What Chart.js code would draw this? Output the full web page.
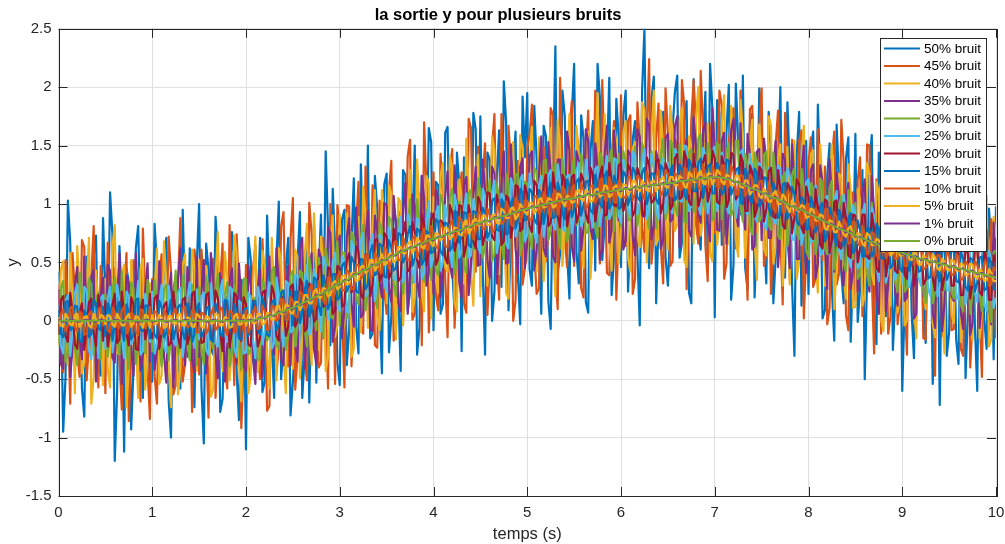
<!DOCTYPE html>
<html lang="fr">
<head>
<meta charset="utf-8">
<title>la sortie y pour plusieurs bruits</title>
<script src="https://cdn.jsdelivr.net/npm/chart.js@4.4.1/dist/chart.umd.min.js"></script>
<style>
  html, body { margin: 0; padding: 0; background: #fff; }
  canvas { display: block; }
</style>
</head>
<body>
<canvas id="sortie" width="1005" height="544"></canvas>
<script>
// échantillons bruités : 0 à 10 s par pas de 0.025 s (401 points)
const temps = Array.from({ length: 401 }, (_, i) => i / 40);
// sorties peu bruitées : pas de 0.05 s (201 points)
const tempsLisse = Array.from({ length: 201 }, (_, i) => i / 20);

const niveaux = ['50% bruit', '45% bruit', '40% bruit', '35% bruit', '30% bruit', '25% bruit',
                 '20% bruit', '15% bruit', '10% bruit', '5% bruit', '1% bruit', '0% bruit'];

const couleurs = ['#0072BD', '#D95319', '#EDB120', '#7E2F8E', '#77AC30', '#4DBEEE',
                  '#A2142F', '#0072BD', '#D95319', '#EDB120', '#7E2F8E', '#77AC30'];

const sortie50 = [
    0.42, 0.21, -0.95, -0.48, 1.03, 0.67, -0.31, -0.15, 0.18, 0.39, -0.58, -0.82, 0.55, 0.11, -0.12, 0.56, 0.73, -0.34, -0.47, 0.88,
    0.26, -0.29, 1.10, 0.74, -1.20, -0.61, 0.64, 0.18, -1.12, 0.45, 0.33, -0.93, -0.41, 0.62, 0.81, -0.07, -0.66, 0.35, 0.09, -0.52,
    -0.52, 0.83, 0.48, -0.16, -0.23, 0.51, 0.71, -0.68, -1.00, 0.27, 0.37, -0.44, -0.58, 0.95, 0.15, -0.31, 0.62, -0.12, -0.74, 0.49,
    1.00, -0.57, -1.05, 0.66, 0.44, -0.24, -0.29, 0.89, 0.58, -0.78, -0.67, 0.13, 0.21, -0.46, 0.76, 0.58, -0.43, -0.85, 0.35, 0.32,
    -1.10, 0.71, 0.53, -0.32, -0.37, 0.17, 0.71, -0.61, -0.52, 0.90, 0.31, -0.16, -0.66, 0.53, 1.02, -0.50, -0.18, 0.45, 0.71, -0.81,
    -0.52, -0.14, 0.52, 0.93, -0.66, -0.31, 0.74, -0.70, 0.31, 0.83, -0.53, 0.40, 0.91, -0.15, 1.45, 0.79, -0.21, 1.13, 0.64, -0.36,
    -0.55, 0.87, 0.95, -0.38, -0.08, 0.66, 1.22, -0.05, -0.28, 1.34, 0.65, 0.25, 1.50, -0.15, -0.11, 1.24, 0.96, 0.12, -0.45, 1.17,
    1.26, -0.27, 0.03, 0.98, 0.85, 0.23, -0.43, 1.29, 1.25, 0.09, 0.25, 0.80, 1.50, -0.29, -0.06, 1.24, 0.86, 0.41, 1.65, 1.53,
    -0.08, 1.19, 1.16, 0.06, 0.14, 1.61, 1.66, 0.52, 0.45, 0.05, 1.44, 1.17, -0.26, 1.40, 1.18, 0.32, 0.33, 1.78, 1.64, 0.47,
    1.75, 0.43, -0.29, 1.44, 1.38, 0.00, 0.25, 1.23, 1.63, 0.29, 2.05, 1.69, 0.09, 0.67, 1.28, 1.62, 0.39, -0.03, 1.92, 1.40,
    1.95, 0.44, 0.30, 1.84, 1.39, 0.68, 0.06, 1.67, 1.58, 0.17, -0.07, 1.26, 2.35, 0.41, 0.57, 1.97, 1.76, 0.59, 0.19, 1.76,
    2.20, 0.59, 0.32, 1.76, 1.56, 0.16, 0.07, 1.46, 1.71, 0.43, 2.20, 1.91, 0.52, 0.81, 1.37, 2.08, 0.22, 0.54, 1.90, 1.57,
    0.46, 1.76, 1.97, 0.25, 0.71, 1.55, 1.71, 0.58, -0.04, 1.97, 2.50, 0.82, 0.45, 1.90, 2.09, 0.15, 0.82, 1.46, 1.79, 0.55,
    0.30, 0.79, 1.64, 1.96, 2.10, 0.54, 0.67, 1.72, 1.88, 0.24, 0.15, 2.07, 1.60, 0.79, 0.61, 1.53, 1.96, 0.44, 2.20, 1.81,
    0.03, 1.89, 1.78, 0.65, 0.75, 1.61, 2.02, 0.18, 0.48, 2.03, 1.54, 0.91, 2.10, 0.45, 0.27, 1.69, 1.77, 0.20, 0.73, 1.99,
    1.68, 0.73, 0.32, 1.79, 1.48, 0.15, 0.54, 1.32, 2.00, 0.48, 0.37, 1.87, 1.30, 0.30, -0.30, 1.43, 1.79, 0.13, 0.49, 1.54,
    0.23, 1.48, 1.62, 0.45, 1.85, 1.22, 0.02, 0.09, 1.25, 1.52, 0.26, -0.17, 1.68, 1.21, 0.41, 0.15, 1.39, 1.57, -0.18, 0.45,
    1.60, -0.01, 0.27, 1.29, -0.50, 0.37, 1.34, 1.59, 0.09, -0.20, 1.44, 1.12, 0.33, 0.04, 1.16, 1.36, -0.25, 0.19, 1.02, 1.25,
    -0.60, 0.14, 1.20, 1.09, 0.07, -0.32, 0.89, 1.22, 1.30, 0.18, -0.19, 1.35, 1.03, -0.54, 0.12, 0.91, -0.72, 0.75, 1.17, -0.30,
    -0.10, 1.18, 0.94, -0.16, -0.37, 0.93, 1.35, -0.49, 0.07, 0.79, 1.01, -0.05, -0.60, 1.23, 1.14, 0.01, -0.24, 0.96, 0.65, -0.33,
    0.98
];

const sortie45 = [
    0.31, -0.36, -0.44, 0.52, 0.12, -0.71, 0.58, 0.24, -0.27, -0.48, 0.69, 0.63, -0.51, -0.19, 0.38, 0.81, -0.09, -0.57, 0.47, 0.28,
    -0.62, 0.67, 0.21, -0.32, 0.45, 0.14, -0.33, -0.76, 0.15, 0.58, -0.86, -0.27, 0.52, 0.43, -0.18, -0.69, 0.79, 0.21, -0.41, -0.84,
    0.36, -0.47, -0.71, 0.39, 0.57, -0.18, -0.14, 0.72, 0.42, -0.63, -0.55, 0.31, 0.88, -0.52, -0.37, 0.16, 0.24, -0.78, 0.61, 0.44,
    -0.46, 0.61, 0.29, -0.13, -0.83, 0.47, 0.53, -0.66, -0.21, 0.35, 0.66, -0.41, -0.58, 0.82, 0.11, -0.55, 0.74, 0.26, -0.92, -0.37,
    0.48, -0.58, -0.36, 0.45, 0.64, -0.21, -0.50, 0.70, 0.22, -0.77, -0.73, 0.41, 0.46, -0.46, -0.21, 0.81, 0.93, -0.08, -0.39, 0.70,
    1.05, -0.59, -0.30, 0.42, 0.42, -0.33, -0.51, 1.01, 0.74, -0.16, 0.54, -0.40, -0.36, 0.71, 0.09, -0.58, 1.00, 0.62, -0.54, 0.99,
    0.78, 0.04, -0.57, 0.99, 0.98, -0.39, 0.04, 0.81, 1.19, -0.04, -0.11, 1.32, 0.58, 0.11, 1.16, -0.21, -0.23, 1.03, 0.89, 0.26,
    0.06, 1.11, 1.37, -0.17, -0.09, 0.94, 0.90, 0.12, 0.37, 1.41, 1.55, 0.01, 0.06, 0.89, 1.09, -0.21, 1.70, 1.13, -0.10, 0.37,
    1.27, 0.22, 0.09, 1.43, 1.08, 0.36, -0.14, 1.31, 1.47, -0.06, 0.51, 1.07, 1.27, 0.15, 0.07, 1.73, 1.65, 0.55, 0.42, 1.49,
    0.29, 1.23, 1.52, 0.05, 0.48, 1.49, 1.77, 0.55, 0.18, 1.77, 1.14, 0.34, 1.67, 1.35, 0.00, 0.17, 1.37, 1.24, 0.31, 0.45,
    1.48, 1.59, 1.85, 0.60, 0.23, 0.28, 1.36, 1.49, 0.51, 0.74, 1.82, 1.76, 0.39, 0.10, 2.08, 1.39, 0.72, 0.46, 1.63, 1.88,
    0.47, 1.60, 1.49, 0.28, 0.20, 1.41, 1.80, 0.62, 0.72, 1.97, 1.63, 0.49, 2.06, 1.37, 0.41, 0.39, 1.39, 1.71, 0.18, 0.74,
    1.93, 0.70, 0.64, 1.71, 1.76, 0.23, 0.36, 1.87, 1.52, 0.80, 0.59, 1.62, 2.24, 0.49, 0.74, 1.56, 1.86, 0.63, 0.32, 1.99,
    1.62, 0.47, 0.51, 1.56, 1.48, 0.72, 2.06, 1.84, 0.27, 0.92, 1.72, 2.06, 0.83, 0.66, 2.14, 1.65, 0.65, 0.34, 1.58, 1.74,
    0.75, 0.89, 1.97, 1.85, 0.36, 0.49, 1.54, 1.69, 1.82, 0.62, 0.64, 1.97, 1.44, 0.75, 0.18, 1.81, 1.84, 0.87, 0.76, 1.65,
    1.99, 0.47, 0.57, 1.48, 0.23, 0.71, 1.51, 1.80, 0.74, 0.14, 1.78, 1.29, 0.35, 1.55, 1.35, 0.48, 1.54, 1.63, 0.02, 0.56,
    1.35, 1.57, 0.29, 0.36, 1.64, 0.59, 0.52, 1.32, -0.03, 0.11, 1.40, 1.62, 0.31, 0.40, 1.72, 1.36, 0.05, -0.08, 1.06, 1.10,
    0.17, 1.20, 1.40, 0.04, 0.29, 1.51, 1.50, 0.37, -0.28, 1.21, 1.02, -0.11, 1.25, 1.02, -0.11, 0.04, 1.09, 1.31, -0.03, 0.15,
    1.10, 0.21, -0.29, 1.18, 1.30, 0.01, 0.09, 1.33, 0.86, -0.15, -0.16, 0.94, 1.08, 0.22, -0.47, 1.23, 0.91, -0.13, 0.17, 0.96,
    1.13, -0.08, -0.07, 0.90, 0.84, -0.24, -0.30, 1.02, 1.28, -0.40, 0.00, 1.14, 0.69, 0.05, -0.48, 1.01, 0.96, -0.08, 0.87, 0.77,
    -0.15
];

const sortie40 = [
    -0.22, 0.44, 0.51, -0.19, -0.38, 0.58, 0.17, -0.62, 0.64, 0.27, -0.45, -0.36, 0.29, 0.71, -0.71, -0.48, 0.43, 0.15, -0.13, -0.55,
    0.36, -0.41, -0.57, 0.63, 0.82, -0.28, -0.25, 0.39, 0.48, -0.74, -0.39, 0.52, 0.14, -0.16, -0.66, 0.45, 0.53, -0.59, -0.31, 0.32,
    -0.18, 0.27, 0.62, -0.54, -0.47, 0.68, 0.33, -0.37, -0.74, 0.19, 0.26, -0.63, -0.41, 0.48, 0.57, -0.22, -0.29, 0.61, 0.45, -0.43,
    0.52, -0.26, -0.34, 0.47, 0.21, -0.65, -0.59, 0.34, 0.76, -0.18, -0.43, 0.59, 0.37, -0.51, -0.24, 0.73, 0.58, -0.37, -0.69, 0.28,
    0.33, -0.62, -0.48, 0.32, 0.72, -0.44, -0.25, 0.60, 0.47, -0.29, -0.58, 0.71, 0.24, -0.51, 0.62, 0.50, -0.28, -0.62, 0.38, 0.36,
    -0.41, 0.61, 0.54, -0.49, -0.14, 0.54, 0.83, -0.03, -0.38, 0.92, 0.44, -0.25, 0.72, 0.50, -0.43, -0.31, 0.65, 0.90, -0.14, -0.04,
    0.91, -0.11, -0.02, 0.92, 0.63, -0.31, -0.24, 0.73, 0.89, -0.10, 1.15, 0.90, -0.06, 0.19, 0.81, 1.12, 0.03, -0.08, 1.12, 0.91,
    0.15, 1.16, 1.09, 0.25, -0.16, 1.05, 1.01, -0.04, 0.35, 1.00, 1.29, 0.08, 0.20, 1.38, 0.96, 0.24, 0.08, 1.24, 1.18, 0.02,
    1.06, 0.34, 0.24, 1.24, 1.35, 0.46, 0.42, 1.41, 1.31, 0.16, 0.08, 1.21, 1.06, 0.32, 1.56, 1.15, 0.40, 0.13, 1.06, 1.42,
    0.21, 1.31, 1.30, 0.30, 0.58, 1.58, 1.46, 0.48, 0.40, 1.23, 1.27, 0.24, 0.19, 1.44, 1.53, 0.64, 0.59, 1.59, 1.47, 0.48,
    0.52, 1.34, 1.66, 0.49, 0.42, 1.57, 1.28, 0.34, 0.63, 1.45, 1.65, 0.70, 0.21, 1.72, 1.50, 0.47, 0.78, 1.30, 1.77, 0.62,
    0.56, 1.67, 1.41, 0.69, 0.45, 1.53, 1.62, 0.36, 0.77, 1.38, 1.95, 0.54, 0.65, 1.77, 1.37, 0.67, 0.43, 1.65, 1.53, 0.49,
    0.79, 1.61, 1.71, 0.54, 0.42, 1.48, 1.53, 0.72, 0.63, 1.87, 1.81, 0.50, 0.89, 1.57, 1.97, 0.65, 0.71, 1.80, 1.49, 0.89,
    0.61, 1.84, 1.61, 0.77, 0.83, 1.71, 1.82, 0.52, 0.46, 1.58, 1.49, 0.66, 1.74, 2.00, 0.73, 0.91, 1.59, 1.69, 0.58, 0.51,
    1.70, 0.65, 0.85, 1.67, 1.93, 0.86, 0.66, 1.84, 1.46, 0.70, 0.55, 1.89, 1.59, 0.54, 0.86, 1.52, 1.72, 0.68, 0.35, 1.68,
    1.44, 0.62, 0.56, 1.75, 1.67, 0.49, 0.63, 1.40, 1.51, 0.30, 0.70, 1.49, 0.31, 1.26, 1.54, 0.36, 0.51, 1.39, 1.67, 0.54,
    0.53, 1.43, 1.46, 0.52, 0.24, 1.51, 1.14, 0.30, 0.37, 1.14, 1.51, 0.10, 0.47, 1.26, 1.23, 0.36, 0.19, 1.34, 1.12, 0.11,
    0.12, 1.13, 1.03, 0.13, 0.22, 1.35, 1.25, 0.41, 0.31, 1.19, 1.09, 0.01, -0.09, 0.98, 0.88, 0.13, 1.24, 1.17, 0.07, 0.21,
    1.06, -0.04, 0.00, 0.94, 0.91, 0.10, -0.15, 1.12, 1.14, 0.24, 0.10, 1.18, 0.78, -0.02, -0.14, 0.94, 1.02, 0.11, -0.28, 1.09,
    0.86, 0.06, -0.02, 1.02, 1.07, -0.18, 0.08, 0.76, 0.94, -0.04, -0.17, 1.11, 0.85, -0.15, 0.07, 0.83, 1.07, -0.22, -0.16, 0.89,
    0.71
];

const sortie35 = [
    0.27, -0.36, -0.41, 0.22, 0.15, -0.48, -0.22, 0.31, 0.46, -0.14, -0.33, 0.55, 0.09, -0.27, 0.38, 0.43, -0.52, -0.19, 0.21, 0.37,
    -0.17, 0.48, 0.43, -0.31, -0.36, 0.17, 0.58, -0.54, -0.24, 0.39, 0.31, -0.22, -0.47, 0.58, 0.12, -0.43, -0.29, 0.26, 0.49, -0.35,
    0.34, -0.42, -0.26, 0.51, 0.19, -0.29, -0.53, 0.23, 0.41, -0.57, -0.14, 0.36, 0.62, -0.19, -0.38, 0.46, 0.23, -0.33, -0.44, 0.55,
    -0.31, 0.24, 0.52, -0.45, -0.18, 0.58, 0.36, -0.28, -0.49, 0.41, 0.27, -0.52, -0.21, 0.33, 0.45, -0.16, -0.37, 0.49, 0.16, -0.39,
    -0.43, 0.47, 0.29, -0.33, -0.54, 0.28, 0.44, -0.48, -0.16, 0.42, 0.55, -0.18, -0.29, 0.62, 0.31, -0.33, -0.38, 0.27, 0.47, -0.38,
    0.33, -0.21, -0.35, 0.62, 0.71, -0.41, -0.10, 0.43, 0.58, -0.24, -0.37, 0.61, 0.54, 0.00, 0.09, 0.80, 0.75, -0.18, -0.05, 0.62,
    0.73, -0.15, 0.11, 0.71, 0.88, 0.16, -0.05, 0.97, 0.59, 0.03, 0.06, 0.71, 0.94, -0.07, -0.09, 0.90, 0.77, 0.33, 0.20, 1.01,
    0.99, 0.28, 0.16, 1.07, 0.82, 0.15, 0.08, 0.94, 1.18, 0.06, 0.41, 1.08, 0.98, 0.34, 0.20, 1.24, 1.05, 0.30, 0.41, 0.92,
    0.23, 1.12, 1.04, 0.20, 0.47, 1.07, 1.28, 0.48, 0.37, 1.33, 0.98, 0.33, 0.20, 1.17, 1.23, 0.22, 0.49, 1.06, 1.32, 0.48,
    0.48, 1.38, 1.12, 0.52, 0.37, 1.32, 1.26, 0.32, 0.65, 1.18, 1.45, 0.49, 0.50, 1.51, 1.11, 0.62, 0.41, 1.32, 1.39, 0.45,
    0.67, 1.41, 1.45, 0.43, 0.61, 1.26, 1.58, 0.62, 0.55, 1.53, 1.27, 0.55, 0.50, 1.38, 1.38, 0.81, 0.83, 1.62, 1.46, 0.64,
    0.51, 1.45, 1.37, 0.60, 0.80, 1.64, 1.54, 0.79, 0.70, 1.52, 1.31, 0.52, 0.61, 1.42, 1.67, 0.67, 0.78, 1.63, 1.37, 0.86,
    1.49, 0.61, 0.69, 1.46, 1.42, 0.73, 0.56, 1.64, 1.58, 0.90, 0.89, 1.73, 1.67, 0.70, 0.81, 1.45, 1.35, 0.62, 0.70, 1.56,
    1.60, 0.85, 0.87, 1.67, 1.75, 0.63, 0.97, 1.46, 1.55, 0.77, 0.72, 1.74, 1.48, 0.93, 0.84, 1.63, 1.70, 0.85, 0.68, 1.82,
    1.47, 0.78, 0.77, 1.54, 1.61, 0.66, 0.93, 1.63, 1.73, 0.92, 0.81, 1.69, 0.98, 0.78, 1.60, 1.43, 0.61, 0.64, 1.45, 1.47,
    0.69, 1.56, 1.36, 0.71, 0.71, 1.30, 1.54, 0.46, 0.77, 1.43, 1.38, 0.71, 0.45, 1.51, 1.18, 0.53, 0.53, 1.27, 1.50, 0.41,
    0.67, 1.29, 1.34, 0.36, 0.49, 1.33, 1.18, 0.64, 0.27, 1.38, 1.05, 0.42, 1.27, 1.06, 0.44, 0.30, 1.05, 1.18, 0.27, 0.43,
    1.09, 0.25, 0.49, 1.09, 1.21, 0.40, 0.25, 1.24, 0.94, 0.24, 0.06, 0.96, 1.05, 0.08, 0.31, 1.06, 0.80, 0.24, 0.13, 1.11,
    1.11, 0.17, 0.20, 0.86, 0.80, 0.02, 0.06, 1.00, 0.92, 0.21, 0.25, 1.09, 0.95, 0.07, -0.06, 0.85, 0.80, -0.09, 0.13, 0.89,
    0.89, 0.21, 0.17, 0.99, 0.80, 0.07, -0.07, 0.88, 0.69, -0.12, -0.02, 0.75, 0.99, -0.06, 0.17, 0.91, 0.76, 0.10, -0.03, 0.84,
    0.09
];

const sortie30 = [
    -0.19, 0.28, 0.34, -0.35, -0.27, 0.19, 0.11, -0.23, -0.38, 0.41, 0.25, -0.14, -0.08, 0.36, 0.31, -0.29, 0.17, 0.24, -0.33, 0.08,
    0.23, -0.31, -0.12, 0.26, 0.37, -0.18, -0.29, 0.42, 0.14, -0.25, -0.41, 0.33, 0.28, -0.37, -0.21, 0.19, 0.09, -0.28, 0.35, 0.12,
    -0.26, 0.35, 0.18, -0.21, -0.39, 0.27, 0.31, -0.34, -0.15, 0.18, 0.43, -0.29, -0.22, 0.39, 0.27, -0.16, -0.34, 0.31, 0.13, -0.38,
    0.29, -0.23, -0.37, 0.38, 0.16, -0.14, -0.24, 0.27, 0.40, -0.33, -0.11, 0.22, 0.33, -0.39, -0.28, 0.31, 0.21, -0.19, -0.42, 0.36,
    0.36, -0.29, -0.25, 0.18, 0.20, -0.34, -0.32, 0.35, 0.30, -0.17, -0.12, 0.43, 0.46, -0.21, -0.24, 0.27, 0.22, -0.25, -0.13, 0.39,
    0.43, -0.22, -0.05, 0.43, 0.41, -0.07, -0.22, 0.54, 0.40, 0.05, -0.08, 0.54, 0.35, -0.14, 0.62, 0.48, 0.04, 0.02, 0.47, 0.68,
    -0.04, 0.59, 0.58, 0.02, 0.19, 0.76, 0.72, 0.21, 0.14, 0.73, 0.82, 0.09, 0.24, 0.68, 0.61, 0.19, 0.11, 0.84, 0.79, 0.28,
    0.30, 0.89, 0.86, 0.32, 0.21, 0.87, 0.77, 0.23, 0.47, 0.80, 1.04, 0.32, 0.35, 1.04, 0.87, 0.44, 0.34, 0.95, 0.95, 0.35,
    0.89, 0.43, 0.39, 1.08, 1.01, 0.55, 0.53, 1.06, 1.13, 0.40, 0.51, 1.02, 0.93, 0.47, 0.41, 1.09, 1.12, 0.60, 0.66, 1.22,
    1.11, 0.54, 0.63, 1.05, 1.21, 0.51, 0.57, 1.17, 1.05, 0.66, 0.53, 1.26, 1.15, 0.74, 0.79, 1.25, 1.26, 0.56, 0.67, 1.19,
    1.17, 0.71, 0.62, 1.31, 1.27, 0.78, 0.81, 1.37, 1.38, 0.69, 0.77, 1.21, 1.35, 0.75, 0.62, 1.39, 1.20, 0.68, 0.77, 1.29,
    1.39, 0.82, 0.87, 1.43, 1.32, 0.75, 0.76, 1.29, 1.21, 0.80, 0.71, 1.44, 1.39, 0.92, 0.87, 1.38, 1.47, 0.77, 0.97, 1.43,
    0.81, 1.45, 1.35, 0.86, 0.87, 1.33, 1.49, 0.81, 0.97, 1.52, 1.44, 0.94, 0.79, 1.45, 1.30, 0.79, 0.93, 1.42, 1.56, 0.87,
    0.96, 1.54, 1.51, 0.98, 0.90, 1.51, 1.37, 0.85, 0.84, 1.44, 1.47, 0.93, 1.07, 1.56, 1.60, 1.03, 0.95, 1.52, 1.44, 0.86,
    0.89, 1.52, 1.50, 0.87, 1.03, 1.44, 1.52, 0.90, 0.95, 1.54, 1.54, 0.99, 0.85, 1.43, 1.33, 0.80, 0.74, 1.44, 1.36, 0.85,
    0.89, 1.42, 1.45, 0.82, 0.78, 1.44, 1.20, 0.73, 0.70, 1.23, 1.27, 0.64, 0.82, 1.25, 1.31, 0.75, 0.70, 1.30, 1.13, 0.60,
    0.55, 1.18, 1.13, 0.57, 0.72, 1.22, 1.18, 0.62, 0.57, 1.14, 1.20, 0.44, 0.58, 0.98, 1.07, 0.50, 0.42, 1.12, 0.89, 0.53,
    1.01, 0.36, 0.40, 0.95, 0.91, 0.40, 0.30, 1.01, 0.83, 0.44, 0.41, 1.02, 0.99, 0.32, 0.43, 0.80, 0.88, 0.33, 0.25, 0.94,
    0.80, 0.25, 0.28, 0.84, 0.92, 0.36, 0.38, 0.89, 0.84, 0.25, 0.15, 0.75, 0.69, 0.15, 0.25, 0.81, 0.88, 0.25, 0.27, 0.82,
    0.80, 0.25, 0.19, 0.82, 0.59, 0.14, 0.08, 0.69, 0.72, 0.06, 0.24, 0.71, 0.66, 0.22, 0.08, 0.74, 0.56, 0.11, -0.01, 0.59,
    0.60
];

const sortie25 = [
    0.14, -0.21, -0.28, 0.17, 0.22, -0.30, -0.09, 0.24, 0.31, -0.13, -0.18, 0.29, 0.26, -0.25, -0.33, 0.12, 0.07, -0.32, 0.19, 0.22,
    -0.24, 0.19, 0.29, -0.27, -0.11, 0.31, 0.17, -0.14, -0.32, 0.25, 0.21, -0.20, -0.15, 0.11, 0.34, -0.29, -0.26, 0.23, 0.08, -0.18,
    0.25, -0.28, -0.19, 0.14, 0.31, -0.22, -0.27, 0.30, 0.12, -0.17, -0.21, 0.24, 0.28, -0.31, -0.14, 0.19, 0.33, -0.13, -0.23, 0.27,
    -0.16, 0.21, 0.24, -0.25, -0.29, 0.32, 0.13, -0.19, -0.22, 0.26, 0.35, -0.12, -0.18, 0.29, 0.27, -0.23, -0.31, 0.17, 0.15, -0.28,
    -0.27, 0.24, 0.21, -0.17, -0.32, 0.29, 0.20, -0.20, -0.09, 0.19, 0.33, -0.24, -0.19, 0.37, 0.23, -0.08, -0.22, 0.34, 0.32, -0.10,
    -0.08, 0.39, 0.39, -0.08, 0.01, 0.35, 0.48, -0.12, -0.06, 0.44, 0.38, 0.07, -0.09, 0.55, 0.48, 0.01, 0.17, 0.50, 0.58, 0.13,
    0.08, 0.55, 0.52, 0.08, 0.07, 0.68, 0.64, 0.24, 0.25, 0.68, 0.75, 0.21, 0.24, 0.63, 0.74, 0.17, 0.36, 0.74, 0.71, 0.33,
    0.25, 0.80, 0.70, 0.36, 0.35, 0.71, 0.89, 0.33, 0.44, 0.91, 0.86, 0.45, 0.33, 0.88, 0.84, 0.36, 0.41, 0.84, 1.02, 0.46,
    0.55, 0.92, 0.98, 0.43, 0.50, 0.99, 0.88, 0.57, 0.46, 1.08, 0.98, 0.54, 0.60, 0.95, 1.09, 0.54, 0.56, 1.04, 0.95, 0.64,
    0.58, 1.13, 1.07, 0.69, 0.69, 1.10, 1.20, 0.58, 0.69, 1.09, 1.06, 0.66, 0.62, 1.22, 1.16, 0.72, 0.80, 1.21, 1.25, 0.68,
    0.74, 1.26, 1.15, 0.75, 0.67, 1.16, 1.24, 0.72, 0.87, 1.25, 1.29, 0.83, 0.78, 1.34, 1.18, 0.79, 0.77, 1.24, 1.25, 0.75,
    0.88, 1.29, 1.35, 0.81, 0.86, 1.38, 1.21, 0.91, 0.80, 1.30, 1.32, 0.81, 0.95, 1.28, 1.41, 0.87, 0.92, 1.39, 1.38, 0.91,
    0.84, 1.38, 1.29, 0.95, 0.90, 1.45, 1.41, 0.91, 1.01, 1.35, 1.47, 0.87, 0.96, 1.43, 1.35, 0.96, 0.87, 1.33, 1.39, 0.92,
    1.35, 0.96, 0.92, 1.47, 1.43, 1.03, 1.02, 1.50, 1.49, 0.94, 0.98, 1.40, 1.34, 0.98, 0.91, 1.48, 1.42, 0.92, 1.08, 1.46,
    1.49, 0.94, 1.04, 1.44, 1.36, 0.97, 0.92, 1.39, 1.42, 0.88, 1.02, 1.44, 1.47, 0.96, 0.91, 1.43, 1.31, 0.90, 0.85, 1.35,
    1.31, 0.83, 0.78, 1.31, 1.22, 0.87, 0.83, 1.33, 1.30, 0.80, 0.88, 1.31, 1.24, 0.70, 0.69, 1.14, 1.15, 0.65, 0.76, 1.18,
    1.21, 0.67, 0.69, 1.16, 1.05, 0.56, 0.58, 1.04, 1.07, 0.57, 0.67, 1.03, 1.11, 0.61, 0.53, 1.08, 0.91, 0.55, 0.46, 0.99,
    0.91, 0.45, 0.47, 0.91, 1.00, 0.46, 0.51, 0.97, 0.89, 0.48, 0.34, 0.91, 0.79, 0.33, 0.42, 0.84, 0.88, 0.35, 0.46, 0.90,
    0.32, 0.83, 0.77, 0.29, 0.40, 0.76, 0.82, 0.37, 0.30, 0.83, 0.66, 0.28, 0.21, 0.70, 0.74, 0.21, 0.30, 0.75, 0.79, 0.26,
    0.26, 0.74, 0.62, 0.22, 0.18, 0.64, 0.67, 0.14, 0.29, 0.66, 0.71, 0.24, 0.16, 0.72, 0.58, 0.14, 0.09, 0.60, 0.51, 0.11,
    0.20
];

const sortie20 = [
    -0.12, 0.18, 0.21, -0.13, -0.18, 0.24, 0.08, -0.20, -0.24, 0.07, 0.15, -0.25, -0.06, 0.16, 0.19, -0.10, -0.22, 0.22, 0.11, -0.17,
    0.17, -0.22, -0.09, 0.14, 0.23, -0.19, -0.16, 0.25, 0.05, -0.11, -0.21, 0.20, 0.14, -0.24, -0.25, 0.09, 0.18, -0.16, -0.07, 0.23,
    -0.15, 0.19, 0.22, -0.24, -0.10, 0.13, 0.16, -0.21, -0.19, 0.25, 0.08, -0.14, -0.23, 0.18, 0.20, -0.20, -0.13, 0.23, 0.25, -0.09,
    0.10, -0.19, -0.18, 0.22, 0.24, -0.16, -0.12, 0.26, 0.19, -0.10, -0.26, 0.17, 0.13, -0.23, -0.08, 0.24, 0.21, -0.14, -0.17, 0.20,
    0.14, -0.20, -0.22, 0.17, 0.10, -0.22, -0.15, 0.24, 0.26, -0.09, -0.07, 0.30, 0.23, -0.13, -0.17, 0.20, 0.20, -0.13, -0.05, 0.29,
    0.31, -0.05, 0.00, 0.36, 0.32, -0.09, -0.06, 0.32, 0.28, -0.01, 0.02, 0.46, 0.48, 0.12, 0.14, 0.46, 0.44, 0.06, 0.09, 0.47,
    0.45, 0.12, 0.14, 0.52, 0.58, 0.24, 0.30, 0.64, 0.59, 0.23, 0.19, 0.57, 0.56, 0.21, 0.31, 0.69, 0.70, 0.34, 0.39, 0.75,
    0.72, 0.36, 0.41, 0.79, 0.65, 0.34, 0.37, 0.75, 0.85, 0.42, 0.45, 0.85, 0.76, 0.52, 0.45, 0.91, 0.82, 0.47, 0.59, 0.87,
    0.92, 0.48, 0.53, 0.86, 0.84, 0.54, 0.49, 0.99, 0.92, 0.60, 0.68, 0.99, 0.98, 0.55, 0.65, 0.99, 0.88, 0.68, 0.62, 1.06,
    1.01, 0.65, 0.73, 1.10, 1.09, 0.72, 0.69, 1.08, 0.99, 0.65, 0.68, 1.07, 1.05, 0.71, 0.84, 1.16, 1.15, 0.77, 0.79, 1.16,
    1.08, 0.81, 0.76, 1.20, 1.16, 0.75, 0.86, 1.17, 1.25, 0.81, 0.84, 1.27, 1.11, 0.89, 0.80, 1.25, 1.20, 0.81, 0.93, 1.23,
    1.25, 0.84, 0.91, 1.26, 1.20, 0.91, 0.84, 1.31, 1.25, 0.85, 0.99, 1.25, 1.32, 0.90, 0.91, 1.35, 1.19, 0.99, 0.98, 1.33,
    1.35, 0.94, 1.02, 1.34, 1.29, 0.90, 0.94, 1.31, 1.24, 0.93, 0.90, 1.40, 1.34, 1.01, 1.03, 1.37, 1.38, 0.92, 1.00, 1.35,
    1.29, 0.95, 0.99, 1.39, 1.43, 1.04, 1.06, 1.45, 1.38, 1.02, 0.99, 1.43, 1.28, 0.98, 1.06, 1.36, 1.42, 1.02, 1.11, 1.46,
    1.39, 1.02, 1.00, 1.41, 1.34, 0.97, 1.03, 1.44, 1.42, 1.04, 1.08, 1.42, 1.36, 0.94, 0.94, 1.33, 1.27, 0.89, 0.96, 1.32,
    1.29, 0.85, 0.96, 1.28, 1.31, 0.89, 0.88, 1.29, 1.13, 0.82, 0.79, 1.18, 1.14, 0.75, 0.89, 1.21, 1.17, 0.80, 0.75, 1.15,
    1.06, 0.73, 0.70, 1.13, 0.97, 0.65, 0.62, 1.04, 1.02, 0.58, 0.69, 1.02, 1.03, 0.63, 0.62, 1.01, 0.88, 0.56, 0.54, 0.91,
    0.90, 0.50, 0.62, 0.91, 0.91, 0.55, 0.53, 0.92, 0.79, 0.45, 0.42, 0.81, 0.83, 0.38, 0.51, 0.84, 0.85, 0.43, 0.41, 0.82,
    0.71, 0.39, 0.36, 0.80, 0.72, 0.30, 0.42, 0.72, 0.75, 0.31, 0.35, 0.77, 0.59, 0.37, 0.26, 0.71, 0.67, 0.26, 0.38, 0.64,
    0.68, 0.30, 0.30, 0.68, 0.56, 0.22, 0.22, 0.63, 0.58, 0.19, 0.33, 0.62, 0.65, 0.25, 0.22, 0.64, 0.51, 0.18, 0.18, 0.56,
    0.51
];

const sortie15 = [
    0.09, -0.11, -0.14, 0.16, 0.17, -0.08, -0.06, 0.13, 0.12, -0.17, -0.18, 0.09, 0.05, -0.14, -0.11, 0.18, 0.15, -0.06, -0.08, 0.12,
    -0.13, 0.15, 0.10, -0.17, -0.04, 0.11, 0.16, -0.09, -0.17, 0.14, 0.07, -0.16, -0.12, 0.18, 0.19, -0.07, -0.09, 0.13, 0.13, -0.15,
    0.06, -0.12, -0.15, 0.17, 0.11, -0.14, -0.10, 0.08, 0.18, -0.16, -0.07, 0.12, 0.14, -0.10, -0.16, 0.15, 0.08, -0.18, -0.12, 0.11,
    0.15, -0.14, -0.09, 0.10, 0.12, -0.16, -0.18, 0.15, 0.07, -0.11, -0.13, 0.18, 0.17, -0.08, -0.05, 0.14, 0.10, -0.15, -0.16, 0.09,
    0.11, -0.13, -0.07, 0.16, 0.17, -0.08, -0.12, 0.20, 0.11, -0.12, -0.13, 0.16, 0.18, -0.08, -0.03, 0.24, 0.26, 0.00, 0.04, 0.25,
    -0.04, 0.25, 0.25, -0.02, 0.07, 0.26, 0.34, 0.04, 0.08, 0.37, 0.35, 0.13, 0.05, 0.39, 0.31, 0.10, 0.15, 0.40, 0.40, 0.18,
    0.20, 0.47, 0.50, 0.25, 0.30, 0.55, 0.50, 0.25, 0.24, 0.53, 0.52, 0.27, 0.31, 0.59, 0.65, 0.39, 0.41, 0.66, 0.64, 0.38,
    0.37, 0.69, 0.63, 0.43, 0.45, 0.75, 0.74, 0.50, 0.54, 0.74, 0.81, 0.47, 0.54, 0.79, 0.77, 0.48, 0.52, 0.77, 0.75, 0.58,
    0.59, 0.87, 0.85, 0.60, 0.56, 0.84, 0.83, 0.60, 0.63, 0.94, 0.93, 0.67, 0.73, 0.93, 0.92, 0.65, 0.63, 0.94, 0.93, 0.70,
    0.70, 0.97, 0.92, 0.71, 0.76, 1.03, 1.05, 0.78, 0.77, 1.04, 1.01, 0.74, 0.75, 1.01, 1.05, 0.79, 0.87, 1.13, 1.10, 0.86,
    0.87, 1.13, 1.10, 0.87, 0.83, 1.12, 1.09, 0.83, 0.94, 1.11, 1.18, 0.88, 0.89, 1.18, 1.11, 0.92, 0.87, 1.21, 1.16, 0.89,
    0.95, 1.19, 1.22, 0.90, 0.99, 1.19, 1.20, 0.95, 0.92, 1.25, 1.18, 1.00, 0.97, 1.24, 1.28, 0.96, 1.00, 1.24, 1.19, 0.96,
    0.97, 1.28, 1.24, 0.99, 1.06, 1.31, 1.28, 1.06, 1.03, 1.27, 1.31, 1.00, 1.07, 1.26, 1.26, 1.04, 1.00, 1.33, 1.30, 1.07,
    1.10, 1.29, 1.33, 1.03, 1.06, 1.34, 1.29, 1.08, 1.04, 1.38, 1.33, 1.11, 1.11, 1.35, 1.39, 1.05, 1.16, 1.32, 1.34, 1.09,
    1.09, 1.35, 1.31, 1.08, 1.11, 1.38, 1.37, 1.08, 1.13, 1.29, 1.31, 1.01, 1.00, 1.30, 1.25, 1.03, 1.01, 1.30, 1.27, 0.98,
    1.01, 1.23, 1.22, 0.97, 0.90, 1.18, 1.12, 0.88, 0.91, 1.17, 1.18, 0.87, 0.93, 1.15, 1.08, 0.85, 0.82, 1.06, 1.03, 0.78,
    0.79, 1.06, 1.00, 0.76, 0.81, 0.98, 1.01, 0.68, 0.73, 0.97, 0.90, 0.71, 0.64, 0.95, 0.90, 0.64, 0.68, 0.88, 0.92, 0.58,
    0.61, 0.86, 0.78, 0.55, 0.55, 0.79, 0.79, 0.55, 0.59, 0.83, 0.79, 0.54, 0.53, 0.78, 0.78, 0.45, 0.48, 0.72, 0.68, 0.45,
    0.42, 0.69, 0.69, 0.43, 0.50, 0.72, 0.68, 0.42, 0.43, 0.68, 0.69, 0.36, 0.38, 0.64, 0.58, 0.40, 0.34, 0.65, 0.59, 0.35,
    0.40, 0.63, 0.59, 0.34, 0.33, 0.59, 0.53, 0.29, 0.26, 0.54, 0.52, 0.25, 0.33, 0.54, 0.55, 0.26, 0.28, 0.54, 0.50, 0.27,
    0.27
];

const sortie10 = [
    -0.07, 0.05, 0.10, -0.09, -0.04, 0.11, 0.12, -0.06, -0.09, 0.08, 0.06, -0.12, -0.11, 0.06, 0.08, -0.07, -0.05, 0.10, 0.11, -0.04,
    0.04, -0.08, -0.10, 0.11, 0.08, -0.05, -0.06, 0.09, 0.12, -0.11, -0.08, 0.07, 0.05, -0.09, -0.12, 0.10, 0.09, -0.06, -0.03, 0.12,
    -0.09, 0.08, 0.07, -0.05, -0.11, 0.10, 0.05, -0.12, -0.06, 0.07, 0.10, -0.09, -0.08, 0.11, 0.12, -0.06, -0.04, 0.09, 0.08, -0.10,
    -0.10, 0.07, 0.06, -0.11, -0.07, 0.05, 0.11, -0.08, -0.05, 0.12, 0.09, -0.06, -0.12, 0.09, 0.07, -0.10, -0.08, 0.06, 0.04, -0.09,
    0.09, -0.10, -0.06, 0.08, 0.12, -0.07, -0.06, 0.13, 0.08, -0.08, -0.07, 0.13, 0.12, 0.00, 0.03, 0.19, 0.18, 0.01, 0.01, 0.20,
    0.17, 0.04, 0.03, 0.25, 0.23, 0.10, 0.12, 0.27, 0.31, 0.10, 0.14, 0.34, 0.27, 0.17, 0.14, 0.37, 0.37, 0.18, 0.24, 0.38,
    0.42, 0.26, 0.26, 0.44, 0.41, 0.27, 0.27, 0.48, 0.48, 0.36, 0.39, 0.56, 0.56, 0.37, 0.38, 0.58, 0.55, 0.42, 0.41, 0.63,
    0.61, 0.45, 0.50, 0.66, 0.68, 0.52, 0.52, 0.72, 0.65, 0.52, 0.52, 0.70, 0.73, 0.54, 0.59, 0.74, 0.79, 0.61, 0.61, 0.81,
    0.75, 0.63, 0.62, 0.84, 0.80, 0.64, 0.63, 0.82, 0.86, 0.68, 0.73, 0.89, 0.86, 0.73, 0.73, 0.91, 0.92, 0.70, 0.77, 0.92,
    0.93, 0.79, 0.78, 0.96, 0.90, 0.75, 0.78, 0.97, 1.01, 0.83, 0.85, 1.02, 0.97, 0.83, 0.81, 1.05, 1.02, 0.85, 0.91, 1.03,
    1.03, 0.86, 0.87, 1.06, 1.07, 0.92, 0.94, 1.10, 1.06, 0.92, 0.89, 1.08, 1.12, 0.91, 0.99, 1.15, 1.12, 0.98, 0.95, 1.14,
    1.16, 0.97, 1.00, 1.18, 1.12, 0.96, 0.99, 1.15, 1.16, 1.01, 1.05, 1.20, 1.22, 1.04, 1.03, 1.23, 1.17, 1.02, 1.01, 1.20,
    1.18, 1.06, 1.05, 1.23, 1.23, 1.03, 1.09, 1.24, 1.22, 1.09, 1.04, 1.28, 1.20, 1.08, 1.07, 1.24, 1.29, 1.07, 1.11, 1.29,
    1.26, 1.08, 1.06, 1.26, 1.25, 1.12, 1.13, 1.31, 1.30, 1.09, 1.16, 1.30, 1.30, 1.15, 1.12, 1.34, 1.26, 1.14, 1.15, 1.33,
    1.28, 1.15, 1.14, 1.33, 1.33, 1.16, 1.15, 1.33, 1.28, 1.08, 1.08, 1.25, 1.24, 1.07, 1.11, 1.25, 1.22, 1.06, 1.01, 1.19,
    1.20, 1.02, 1.03, 1.19, 1.13, 0.96, 0.93, 1.12, 1.09, 0.93, 0.93, 1.11, 1.10, 0.90, 0.91, 1.07, 1.00, 0.83, 0.85, 0.99,
    1.00, 0.82, 0.79, 0.96, 0.93, 0.76, 0.79, 0.95, 0.96, 0.77, 0.78, 0.93, 0.89, 0.71, 0.68, 0.87, 0.83, 0.66, 0.67, 0.85,
    0.84, 0.66, 0.64, 0.81, 0.74, 0.57, 0.59, 0.76, 0.74, 0.56, 0.53, 0.72, 0.74, 0.54, 0.57, 0.73, 0.69, 0.53, 0.53, 0.71,
    0.64, 0.47, 0.47, 0.65, 0.65, 0.48, 0.50, 0.66, 0.65, 0.44, 0.45, 0.62, 0.56, 0.39, 0.39, 0.56, 0.56, 0.41, 0.43, 0.59,
    0.56, 0.39, 0.40, 0.57, 0.55, 0.35, 0.36, 0.51, 0.48, 0.31, 0.31, 0.51, 0.48, 0.35, 0.36, 0.50, 0.50, 0.30, 0.31, 0.46,
    0.43
];

const sortie5 = [
    0.03, -0.04, -0.05, 0.06, 0.02, -0.03, -0.04, 0.05, 0.06, -0.05, -0.02, 0.03, 0.04, -0.04, -0.06, 0.06, 0.01, -0.02, 0.05, 0.04,
    -0.03, 0.05, 0.04, -0.03, -0.05, 0.06, 0.02, -0.04, -0.04, 0.03, 0.06, -0.05, -0.02, 0.04, 0.03, -0.02, -0.06, 0.05, 0.04, -0.06,
    0.05, -0.03, -0.02, 0.05, 0.03, -0.06, -0.05, 0.04, 0.04, -0.02, -0.03, 0.05, 0.06, -0.04, -0.04, 0.03, 0.02, -0.05, -0.05, 0.06,
    0.04, -0.05, -0.06, 0.04, 0.03, -0.02, -0.02, 0.06, 0.05, -0.04, -0.04, 0.03, 0.02, -0.06, -0.05, 0.04, 0.06, -0.03, -0.03, 0.05,
    -0.04, 0.05, 0.05, -0.02, -0.02, 0.06, 0.06, -0.03, -0.02, 0.07, 0.06, 0.01, 0.01, 0.12, 0.13, 0.06, 0.06, 0.14, 0.13, 0.07,
    0.06, 0.16, 0.16, 0.09, 0.13, 0.22, 0.22, 0.15, 0.15, 0.25, 0.27, 0.20, 0.20, 0.28, 0.27, 0.21, 0.22, 0.32, 0.34, 0.27,
    0.29, 0.38, 0.39, 0.31, 0.32, 0.41, 0.41, 0.34, 0.35, 0.46, 0.47, 0.41, 0.43, 0.52, 0.52, 0.43, 0.46, 0.52, 0.57, 0.48,
    0.49, 0.57, 0.57, 0.50, 0.52, 0.63, 0.63, 0.58, 0.58, 0.66, 0.68, 0.58, 0.62, 0.71, 0.68, 0.63, 0.62, 0.73, 0.73, 0.66,
    0.64, 0.75, 0.74, 0.69, 0.71, 0.80, 0.79, 0.70, 0.72, 0.80, 0.79, 0.74, 0.73, 0.84, 0.86, 0.75, 0.78, 0.86, 0.87, 0.82,
    0.82, 0.90, 0.90, 0.82, 0.82, 0.90, 0.91, 0.84, 0.83, 0.96, 0.94, 0.88, 0.88, 0.96, 0.97, 0.87, 0.90, 1.00, 0.97, 0.93,
    0.91, 1.01, 1.01, 0.92, 0.95, 1.04, 1.05, 0.97, 0.98, 1.05, 1.04, 0.97, 0.98, 1.09, 1.08, 1.02, 0.98, 1.07, 1.06, 1.01,
    1.02, 1.11, 1.12, 1.04, 1.03, 1.12, 1.10, 1.02, 1.03, 1.12, 1.13, 1.06, 1.08, 1.16, 1.15, 1.06, 1.08, 1.14, 1.16, 1.08,
    1.06, 1.17, 1.16, 1.08, 1.11, 1.20, 1.19, 1.13, 1.11, 1.20, 1.17, 1.12, 1.11, 1.19, 1.20, 1.11, 1.14, 1.21, 1.23, 1.15,
    1.14, 1.23, 1.23, 1.16, 1.16, 1.24, 1.22, 1.15, 1.14, 1.27, 1.25, 1.19, 1.19, 1.26, 1.28, 1.18, 1.17, 1.26, 1.26, 1.17,
    1.21, 1.29, 1.27, 1.19, 1.17, 1.25, 1.24, 1.16, 1.16, 1.24, 1.24, 1.15, 1.14, 1.20, 1.20, 1.08, 1.11, 1.16, 1.16, 1.07,
    1.05, 1.13, 1.10, 1.02, 1.02, 1.09, 1.11, 1.00, 1.00, 1.08, 1.06, 0.97, 0.93, 1.03, 1.00, 0.95, 0.94, 0.99, 0.98, 0.88,
    0.89, 0.96, 0.95, 0.86, 0.86, 0.91, 0.90, 0.79, 0.78, 0.86, 0.85, 0.76, 0.76, 0.85, 0.80, 0.74, 0.72, 0.79, 0.81, 0.72,
    0.69, 0.75, 0.74, 0.66, 0.64, 0.75, 0.73, 0.65, 0.65, 0.70, 0.69, 0.61, 0.59, 0.68, 0.64, 0.56, 0.58, 0.64, 0.64, 0.56,
    0.56, 0.62, 0.63, 0.53, 0.52, 0.60, 0.57, 0.48, 0.48, 0.56, 0.54, 0.49, 0.48, 0.57, 0.54, 0.45, 0.43, 0.53, 0.51, 0.44,
    0.43, 0.52, 0.51, 0.43, 0.43, 0.49, 0.48, 0.39, 0.40, 0.49, 0.48, 0.38, 0.36, 0.44, 0.42, 0.34, 0.35, 0.44, 0.41, 0.34,
    0.34
];

const sortie1 = [
    0.01, -0.01, 0.00, 0.01, -0.01, 0.00, 0.01, 0.00, -0.01, 0.01,
    0.00, -0.01, 0.01, 0.00, -0.01, 0.01, 0.00, -0.01, 0.00, 0.01,
    -0.01, 0.00, 0.01, -0.01, 0.00, 0.01, -0.01, 0.01, 0.00, -0.01,
    0.01, 0.00, -0.01, 0.01, 0.00, -0.01, 0.01, -0.01, 0.00, 0.01,
    0.00, 0.01, 0.00, 0.03, 0.02, 0.05, 0.04, 0.08, 0.07, 0.11,
    0.10, 0.14, 0.14, 0.18, 0.18, 0.22, 0.22, 0.26, 0.27, 0.31,
    0.31, 0.35, 0.35, 0.40, 0.40, 0.44, 0.44, 0.48, 0.48, 0.52,
    0.52, 0.56, 0.56, 0.60, 0.60, 0.63, 0.63, 0.66, 0.66, 0.70,
    0.69, 0.72, 0.72, 0.75, 0.75, 0.78, 0.77, 0.81, 0.80, 0.84,
    0.83, 0.86, 0.85, 0.89, 0.88, 0.91, 0.90, 0.93, 0.93, 0.96,
    0.95, 0.98, 0.97, 1.00, 0.99, 1.02, 1.01, 1.04, 1.03, 1.05,
    1.04, 1.07, 1.06, 1.09, 1.07, 1.10, 1.09, 1.11, 1.10, 1.13,
    1.11, 1.14, 1.12, 1.15, 1.14, 1.16, 1.15, 1.17, 1.16, 1.18,
    1.17, 1.19, 1.18, 1.21, 1.19, 1.22, 1.20, 1.23, 1.21, 1.24,
    1.22, 1.24, 1.21, 1.22, 1.19, 1.19, 1.16, 1.16, 1.12, 1.13,
    1.09, 1.09, 1.05, 1.06, 1.02, 1.02, 0.98, 0.98, 0.95, 0.95,
    0.91, 0.91, 0.87, 0.87, 0.83, 0.83, 0.79, 0.79, 0.76, 0.76,
    0.72, 0.72, 0.69, 0.69, 0.66, 0.66, 0.63, 0.63, 0.60, 0.60,
    0.57, 0.58, 0.55, 0.55, 0.52, 0.53, 0.50, 0.51, 0.48, 0.49,
    0.46, 0.47, 0.44, 0.45, 0.42, 0.43, 0.40, 0.41, 0.38, 0.39,
    0.36
];

// sortie sans bruit
const sortie0 = [
    0, 0, 0, 0, 0, 0, 0, 0, 0, 0,
    0, 0, 0, 0, 0, 0, 0, 0, 0, 0,
    0, 0, 0, 0, 0, 0, 0, 0, 0, 0,
    0, 0, 0, 0, 0, 0, 0, 0, 0, 0,
    0, 0.00, 0.01, 0.02, 0.03, 0.04, 0.05, 0.07, 0.08, 0.10,
    0.11, 0.13, 0.15, 0.17, 0.19, 0.21, 0.23, 0.25, 0.28, 0.30,
    0.32, 0.34, 0.36, 0.39, 0.41, 0.43, 0.45, 0.47, 0.49, 0.51,
    0.53, 0.55, 0.57, 0.59, 0.61, 0.62, 0.64, 0.65, 0.67, 0.69,
    0.70, 0.71, 0.73, 0.74, 0.76, 0.77, 0.78, 0.80, 0.81, 0.83,
    0.84, 0.85, 0.86, 0.88, 0.89, 0.90, 0.91, 0.92, 0.94, 0.95,
    0.96, 0.97, 0.98, 0.99, 1.00, 1.01, 1.02, 1.03, 1.04, 1.04,
    1.05, 1.06, 1.07, 1.08, 1.08, 1.09, 1.10, 1.10, 1.11, 1.12,
    1.12, 1.13, 1.13, 1.14, 1.15, 1.15, 1.16, 1.16, 1.17, 1.17,
    1.18, 1.18, 1.19, 1.20, 1.20, 1.21, 1.21, 1.22, 1.22, 1.23,
    1.23, 1.23, 1.22, 1.21, 1.20, 1.18, 1.17, 1.15, 1.13, 1.12,
    1.10, 1.08, 1.06, 1.05, 1.03, 1.01, 0.99, 0.97, 0.96, 0.94,
    0.92, 0.90, 0.88, 0.86, 0.84, 0.82, 0.80, 0.78, 0.77, 0.75,
    0.73, 0.71, 0.70, 0.68, 0.67, 0.65, 0.64, 0.62, 0.61, 0.59,
    0.58, 0.57, 0.56, 0.54, 0.53, 0.52, 0.51, 0.50, 0.49, 0.48,
    0.47, 0.46, 0.45, 0.44, 0.43, 0.42, 0.41, 0.40, 0.39, 0.38,
    0.37
];

const sorties = [sortie50, sortie45, sortie40, sortie35, sortie30, sortie25,
                 sortie20, sortie15, sortie10, sortie5, sortie1, sortie0];

const police = '"Liberation Sans", Arial, Helvetica, sans-serif';
const gris = '#262626';

// le dernier niveau tracé (0%) passe au-dessus des autres
const datasets = sorties.map((s, k) =>
{
    const t = s.length === temps.length ? temps : tempsLisse;
    return {
        label: niveaux[k],
        data: s.map((v, i) => ({ x: t[i], y: v })),
        borderColor: couleurs[k],
        borderWidth: k >= 10 ? 2 : 2.2,
        borderJoinStyle: 'round',
        pointRadius: 0,
        tension: 0,
        fill: false,
        order: sorties.length - 1 - k
    };
});

// cadre des axes et graduations vers l'intérieur, sous les courbes
const cadre =
{
    id: 'cadre',
    beforeDatasetsDraw(chart)
    {
        const { ctx, chartArea: a, scales: { x, y } } = chart;
        const lg = 9;
        ctx.save();
        ctx.strokeStyle = gris;
        ctx.lineWidth = 1;
        ctx.beginPath();
        for (const t of x.ticks)
        {
            const px = Math.round(x.getPixelForValue(t.value)) + 0.5;
            ctx.moveTo(px, a.bottom); ctx.lineTo(px, a.bottom - lg);
            ctx.moveTo(px, a.top); ctx.lineTo(px, a.top + lg);
        }
        for (const t of y.ticks)
        {
            const py = Math.round(y.getPixelForValue(t.value)) + 0.5;
            ctx.moveTo(a.left, py); ctx.lineTo(a.left + lg, py);
            ctx.moveTo(a.right, py); ctx.lineTo(a.right - lg, py);
        }
        ctx.stroke();
        ctx.strokeRect(Math.round(a.left) + 0.5, Math.round(a.top) + 0.5,
                       Math.round(a.right - a.left), Math.round(a.bottom - a.top));
        ctx.restore();
    }
};

// légende encadrée dans le coin haut droit
const legende =
{
    id: 'legende',
    afterDraw(chart)
    {
        const { ctx, chartArea: a } = chart;
        const w = 106, h = 213;
        const x0 = Math.round(a.right - 10 - w), y0 = Math.round(a.top + 9);
        ctx.save();
        ctx.fillStyle = '#fff';
        ctx.fillRect(x0, y0, w, h);
        ctx.strokeStyle = gris;
        ctx.lineWidth = 1;
        ctx.strokeRect(x0 + 0.5, y0 + 0.5, w, h);
        ctx.font = '13.5px ' + police;
        ctx.textBaseline = 'middle';
        ctx.textAlign = 'left';
        chart.data.datasets.forEach((ds, k) =>
        {
            const yy = y0 + 10.5 + k * 17.5;
            ctx.strokeStyle = ds.borderColor;
            ctx.lineWidth = 1.8;
            ctx.beginPath();
            ctx.moveTo(x0 + 4, yy);
            ctx.lineTo(x0 + 40, yy);
            ctx.stroke();
            ctx.fillStyle = '#000';
            ctx.fillText(ds.label, x0 + 44, yy + 0.5);
        });
        ctx.restore();
    }
};

const config =
{
    type: 'line',
    data: { datasets: datasets },
    options:
    {
        responsive: false,
        animation: false,
        devicePixelRatio: 1,
        normalized: true,
        layout: { padding: { top: 0, right: 9, bottom: 0, left: 0 } },
        plugins:
        {
            legend: { display: false },
            tooltip: { enabled: false },
            title:
            {
                display: true,
                text: 'la sortie y pour plusieurs bruits',
                color: '#000',
                font: { family: police, size: 16.5, weight: 'bold', lineHeight: 1.2 },
                padding: { top: 6, bottom: 3 }
            }
        },
        scales:
        {
            x:
            {
                type: 'linear',
                min: 0,
                max: 10,
                afterFit: s => { s.height = 48; s.paddingLeft = 0; s.paddingRight = 0; },
                border: { display: false },
                grid: { color: '#e0e0e0', lineWidth: 1, drawTicks: false },
                ticks:
                {
                    stepSize: 1,
                    padding: 8,
                    color: gris,
                    maxRotation: 0,
                    font: { family: police, size: 15 }
                },
                title:
                {
                    display: true,
                    text: 'temps (s)',
                    color: gris,
                    font: { family: police, size: 16.5, lineHeight: 1 },
                    padding: { top: 0, bottom: 1 }
                }
            },
            y:
            {
                type: 'linear',
                min: -1.5,
                max: 2.5,
                afterFit: s => { s.width = 58.5; },
                border: { display: false },
                grid: { color: '#e0e0e0', lineWidth: 1, drawTicks: false },
                ticks:
                {
                    stepSize: 0.5,
                    padding: 7,
                    color: gris,
                    font: { family: police, size: 15 },
                    callback: v => String(+v.toFixed(1))
                },
                title:
                {
                    display: true,
                    text: 'y',
                    color: gris,
                    font: { family: police, size: 16.5, lineHeight: 1.2 },
                    padding: { top: 4, bottom: 0 }
                }
            }
        }
    },
    plugins: [cadre, legende]
};

new Chart(document.getElementById('sortie'), config);
</script>
</body>
</html>
